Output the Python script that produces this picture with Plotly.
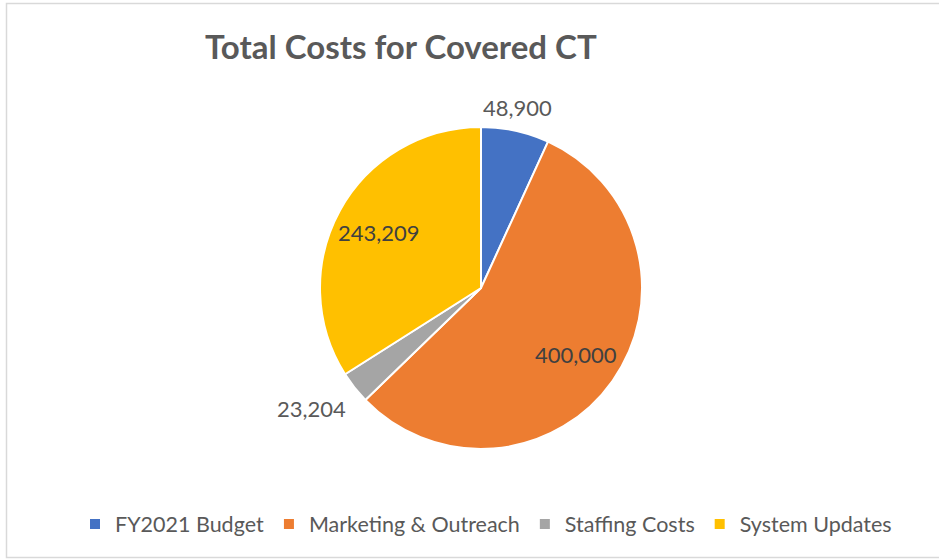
import math
import plotly.graph_objects as go

categories = ["FY2021 Budget", "Marketing & Outreach", "Staffing Costs", "System Updates"]
values = [48900, 400000, 23204, 243209]
colors = ["#4472C4", "#ED7D31", "#A5A5A5", "#FFC000"]
label_inside = [False, True, False, True]

W, H = 939, 560
cx, cy, r = 481, 288, 161
FONT = "Lato, Carlito, sans-serif"

fig = go.Figure(go.Pie(
    labels=categories,
    values=values,
    sort=False,
    direction="clockwise",
    rotation=0,
    marker=dict(colors=colors, line=dict(color="white", width=2)),
    textinfo="none",
    hoverinfo="label+value+percent",
    domain=dict(x=[(cx - r) / W, (cx + r) / W], y=[1 - (cy + r) / H, 1 - (cy - r) / H]),
    showlegend=True,
))

# data labels positioned from the slice mid-angles (computed from the values)
total = sum(values)
annotations = []
cum = 0.0
for v, inside in zip(values, label_inside):
    mid = (cum + v / 2) / total * 2 * math.pi
    cum += v
    s, c = math.sin(mid), math.cos(mid)
    if inside:
        k = 0.72
        px, py = cx + k * r * s, cy - k * r * c
        xa, ya = "center", "middle"
        col = "#404040"
    else:
        k = 1.05
        px, py = cx + k * r * s, cy - k * r * c
        if abs(s) < 0.4:
            xa = "center"
        else:
            xa = "left" if s > 0 else "right"
        if abs(c) < 0.4:
            ya = "middle"
        else:
            ya = "bottom" if c > 0 else "top"
        col = "#595959"
    annotations.append(dict(
        text=f"{v:,}", x=px / W, y=1 - py / H, xref="paper", yref="paper",
        xanchor=xa, yanchor=ya, showarrow=False,
        font=dict(family=FONT, size=22, color=col),
    ))

fig.update_layout(
    width=W, height=H,
    margin=dict(l=0, r=0, t=0, b=0),
    paper_bgcolor="white",
    title=dict(text="<b>Total Costs for Covered CT</b>", x=205 / W, xanchor="left",
               y=1 - 47 / H, yanchor="middle",
               font=dict(family=FONT, size=33, color="#595959")),
    legend=dict(orientation="h", x=486 / W, xanchor="center", y=1 - 524 / H, yanchor="middle",
                font=dict(family=FONT, size=21.5, color="#595959"),
                itemsizing="constant", itemwidth=30, traceorder="normal"),
    annotations=annotations,
    shapes=[dict(type="rect", xref="paper", yref="paper",
                 x0=6.5 / W, x1=1.02, y0=1 - 557.5 / H, y1=1 - 3.5 / H,
                 line=dict(color="#D9D9D9", width=1.5), fillcolor="rgba(0,0,0,0)", layer="below")],
)

fig.write_html("out.html")
